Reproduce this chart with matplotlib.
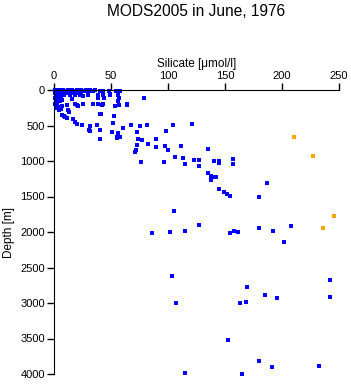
import matplotlib.pyplot as plt

plt.rcParams['font.family'] = ['Liberation Sans', 'DejaVu Sans']

# surface cluster + deeper stations (blue)
silicate = [
    # d ~ 0
    0.5, 4, 8, 12, 16, 20, 24, 28, 32, 36,
    # d ~ 10
    1, 3, 5, 7, 9, 11, 13, 15, 17, 19, 21, 23, 25, 27, 29, 31, 33,
    # d ~ 20
    2, 6, 10, 14, 18, 22, 26, 30, 34, 40, 43, 48, 54, 58,
    # d ~ 40
    1, 3, 5, 8, 12, 16, 20, 24,
    # d ~ 70
    2, 4, 6, 9, 14, 18.4, 22.8, 25.7, 30, 38.6, 43, 49, 56,
    # d 100-160
    1, 2, 3, 4, 5, 7, 56,
    # d 200-220
    1, 2, 3, 5, 7, 11, 20, 41.8, 63.8,
    # d 250-300
    2, 4, 6, 12,
    # d 340-400
    7, 9, 40,
    # deeper
    49, 56, 57, 79, 64, 57, 53.5, 44, 39, 34.5, 38.9, 43.2, 25.7, 21.3, 18.4,
    41, 16, 13, 9.6, 11, 17, 18.4, 19.9, 24.9, 31.6, 30.7, 31.6, 37.4, 40.4,
    40.6, 51.5, 51.2, 55, 56.4, 55.5, 52.6, 58.2, 60.3, 67.2, 75.4, 81.3, 72.5,
    73.4, 77.5, 82.2, 89.5, 89.5, 73.1, 71.6, 70.8, 76.6, 97.4, 100.3, 96.8,
    104.7, 98.5, 111, 106.4, 112.9, 115.2, 121.2, 123, 127.5, 127.5, 135.4,
    140, 145, 145, 157.3, 157.3, 135.4, 137.4, 139.8, 142.1, 138, 145, 149.4,
    152, 154.4, 187.1, 180.1, 105.3, 86.3, 102, 115.2, 127.2, 154.4, 158.2,
    161.1, 180.1, 192.4, 208.2, 202, 103.5, 169, 242.1, 185.4, 195.9, 163.4,
    168.1, 242.1, 107.3, 152.9, 180.1, 191, 232.7, 115.2, 165.2,
]
depth = [
    0, 0, 0, 0, 0, 0, 0, 0, 0, 0,
    10, 10, 10, 10, 10, 10, 10, 10, 10, 10, 10, 10, 10, 10, 10, 10, 10,
    20, 20, 20, 20, 20, 20, 20, 20, 20, 20, 20, 20, 20, 20,
    40, 40, 40, 40, 40, 40, 40, 40,
    80, 70, 90, 75, 70, 75, 70, 80, 70, 70, 70, 70, 75,
    110, 130, 150, 120, 160, 140, 160,
    200, 220, 210, 240, 230, 205, 210, 205, 205,
    260, 280, 270, 282,
    350, 370, 340,
    60, 60, 117, 108, 202, 211, 221, 108, 108, 202, 202, 202, 202, 225, 202,
    338, 127, 305, 380, 400, 413, 446, 479, 493, 502, 563, 577, 493, 563,
    686, 469, 587, 657, 601, 672, 366, 657, 535, 498, 507, 498, 596,
    686, 704, 765, 695, 808, 775, 845, 869, 1014, 789, 845, 1014,
    493, 577, 789, 939, 962, 1047, 479, 986, 986, 1070, 836,
    1000, 1000, 1030, 977, 1042, 1174, 1206, 1220, 1220, 1272, 1399, 1441,
    1469, 1498, 1315, 1512, 1709, 2014, 2005, 1990, 1906, 2014, 1990,
    2005, 1948, 1981, 1920, 2145, 2624, 2779, 2680, 2892, 2934, 3005,
    2991, 2920, 3005, 3526, 3822, 3906, 3892, 3990, 4005,
]

# flagged values (orange)
silicate_flag = [210.8, 226.9, 245.9, 236.2]
depth_flag = [662, 934, 1779, 1948]

fig = plt.figure(figsize=(3.51, 3.84), dpi=100)
ax = fig.add_axes([54 / 351, 1 - 374 / 384, 285 / 351, 284 / 384])

ax.plot(silicate, depth, 's', color='#0000ff', markersize=2.5,
        markeredgewidth=0, clip_on=False)
ax.plot(silicate_flag, depth_flag, 's', color='#ffa500', markersize=2.5,
        markeredgewidth=0, clip_on=False)

ax.set_xlim(0, 250)
ax.set_ylim(4000, 0)
ax.set_xticks([0, 50, 100, 150, 200, 250])
ax.set_yticks([0, 500, 1000, 1500, 2000, 2500, 3000, 3500, 4000])

ax.xaxis.tick_top()
ax.xaxis.set_label_position('top')
ax.spines['right'].set_visible(False)
ax.spines['bottom'].set_visible(False)
ax.tick_params(axis='both', labelsize=8, length=5, width=1, pad=1.5)
ax.set_xlabel('Silicate [μmol/l]', fontsize=8.5, labelpad=3)
ax.set_ylabel('Depth [m]', fontsize=8.5, labelpad=4)

fig.text(196 / 351, 1 - 12 / 384, 'MODS2005 in June, 1976', ha='center',
         va='center', fontsize=11.2)

fig.savefig('out.png', dpi=100)
